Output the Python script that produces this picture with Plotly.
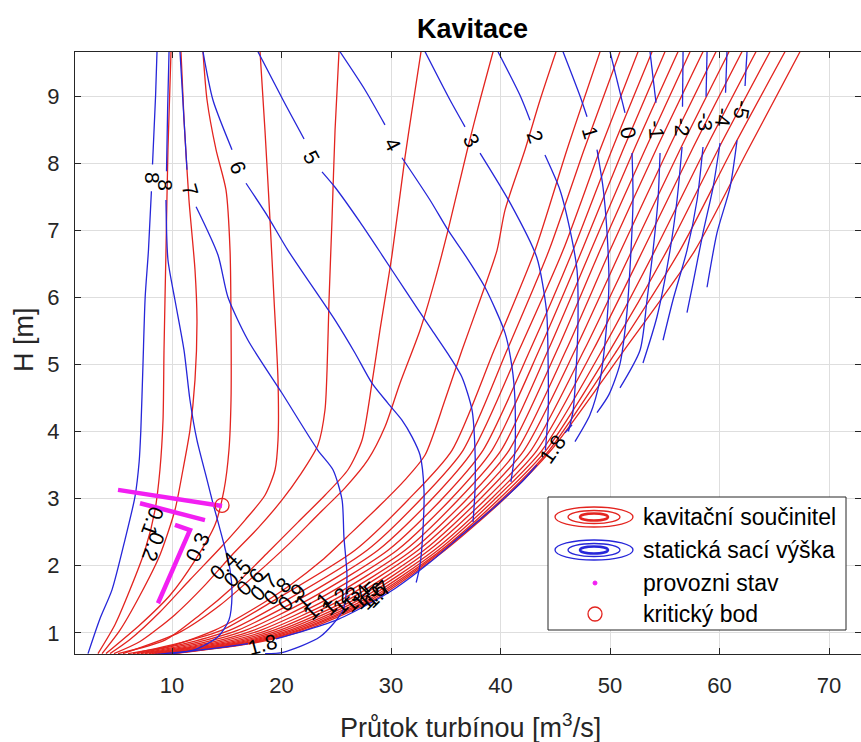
import plotly.graph_objects as go

# ---------------- data (Q = průtok [m3/s], H = spád [m]) ----------------
# kavitační součinitel – red contour lines
R1_Q = [9.91, 9.63, 9.45, 9.27, 9.18, 8.90, 8.45, 7.53, 6.16, 4.79, 3.24]
R1_H = [9.66, 8.20, 6.70, 5.21, 4.17, 3.43, 2.83, 2.23, 1.64, 1.12, 0.69]
R2_Q = [10.82, 11.10, 11.55, 12.10, 12.28, 12.10, 11.64, 11.00, 10.27, 8.90, 7.08, 5.25, 3.61]
R2_H = [9.66, 8.64, 7.45, 6.41, 5.66, 4.77, 4.02, 3.43, 2.83, 2.16, 1.56, 1.04, 0.69]
R3_Q = [12.83, 13.20, 14.02, 14.93, 15.30, 15.39, 15.39, 15.20, 14.75, 13.93, 12.10, 9.82, 7.08, 3.97]
R3_H = [9.66, 8.94, 8.20, 7.60, 6.70, 5.66, 4.47, 3.72, 3.13, 2.61, 2.08, 1.56, 1.12, 0.69]
R4_Q = [18.04, 18.49, 18.95, 19.32, 19.68, 19.68, 19.41, 18.49, 16.67, 14.38, 11.64, 8.90, 6.16, 4.34]
R4_H = [9.66, 8.49, 7.15, 5.96, 4.77, 3.87, 3.43, 3.05, 2.68, 2.26, 1.79, 1.31, 0.90, 0.69]
R5_Q = [25.25, 24.89, 24.61, 24.34, 24.16, 23.97, 23.33, 21.69, 20.05, 17.85, 15.48, 13.01, 10.27, 7.08, 4.70]
R5_H = [9.66, 8.49, 7.15, 5.96, 4.92, 4.32, 3.80, 3.35, 2.98, 2.56, 2.16, 1.71, 1.27, 0.87, 0.69]
R6_Q = [32.74, 31.92, 31.28, 30.09, 28.99, 28.26, 27.35, 26.07, 23.97, 21.51, 18.77, 15.75, 12.56, 9.36, 5.07]
R6_H = [9.66, 8.79, 8.09, 6.63, 5.51, 4.72, 3.87, 3.43, 3.05, 2.65, 2.20, 1.71, 1.27, 0.89, 0.69]
R7_Q = [39.32, 38.13, 37.03, 35.21, 34.02, 32.65, 30.82, 29.45, 27.90, 25.80, 23.33, 20.59, 17.58, 14.38, 10.73, 5.53]
R7_H = [9.66, 8.94, 8.24, 7.00, 6.26, 5.51, 4.72, 4.07, 3.58, 3.16, 2.76, 2.31, 1.86, 1.41, 1.01, 0.69]
R8_Q = [45.07, 43.61, 42.24, 40.41, 39.68, 38.13, 36.48, 34.93, 33.11, 31.28, 29.00, 26.44, 23.70, 20.78, 17.58, 13.93, 9.82, 5.98]
R8_H = [9.66, 8.94, 8.20, 7.30, 6.70, 5.96, 5.21, 4.47, 3.65, 3.28, 2.90, 2.50, 2.08, 1.71, 1.37, 1.04, 0.80, 0.69]
RD_H = [9.66, 8.20, 6.70, 5.21, 3.72, 2.98, 2.23, 1.49, 1.04, 0.85, 0.69]
R9_Q = [49.09, 46.07, 43.15, 39.41, 35.57, 31.55, 26.71, 19.41, 14.57, 10.73, 6.44]
R10_Q = [50.91, 47.63, 44.43, 40.59, 36.58, 32.65, 27.81, 20.50, 15.30, 11.46, 6.80]
R11_Q = [52.56, 49.09, 45.71, 41.69, 37.49, 33.65, 28.81, 21.51, 16.03, 12.10, 7.17]
R12_Q = [53.84, 50.18, 46.62, 42.69, 38.40, 34.57, 29.73, 22.42, 16.76, 12.74, 7.53]
R13_Q = [55.02, 51.19, 47.44, 43.52, 39.22, 35.39, 30.55, 23.24, 17.49, 13.38, 7.90]
R14_Q = [56.21, 52.19, 48.26, 44.34, 40.05, 36.12, 31.28, 24.06, 18.13, 13.93, 8.17]
R15_Q = [57.31, 53.20, 49.09, 45.16, 40.78, 36.85, 31.92, 24.79, 18.77, 14.47, 8.45]
R16_Q = [58.49, 54.20, 50.00, 45.98, 41.51, 37.49, 32.47, 25.43, 19.32, 15.02, 8.72]
R17_Q = [59.68, 55.30, 51.00, 46.80, 42.15, 38.04, 33.01, 26.07, 19.86, 15.48, 9.00]
R18_Q = [60.87, 56.39, 52.01, 47.63, 42.79, 38.58, 33.47, 26.62, 20.32, 15.94, 9.27]
R19_Q = [62.05, 57.49, 53.01, 48.45, 43.33, 39.04, 33.93, 27.08, 20.78, 16.30, 9.45]
R20_Q = [63.33, 58.68, 54.11, 49.27, 43.79, 39.41, 34.29, 27.53, 21.14, 16.67, 9.63]
R21_Q = [64.61, 59.86, 55.21, 50.00, 44.16, 39.77, 34.57, 27.90, 21.51, 17.03, 9.82]
R22_Q = [65.98, 61.14, 56.39, 50.64, 44.43, 40.05, 34.75, 28.17, 21.78, 17.31, 10.00]
R23_Q = [67.35, 62.60, 57.76, 51.28, 44.61, 40.23, 34.93, 28.45, 22.15, 17.58, 10.18]

# statická sací výška – blue contour lines (None = gap for label)
B8a_Q = [8.63, 8.50, 8.22, None, 8.12, 7.85, 7.55, 7.35, 7.15, 7.00, 6.62, 5.71, 4.52, 3.42, 2.33]
B8a_H = [9.66, 9.00, 7.98, None, 7.58, 6.70, 6.00, 5.00, 4.00, 3.55, 3.03, 2.39, 1.64, 1.21, 0.69]
B8b_Q = [9.73, 9.60, 9.50, None, 9.45, 9.63, 10.27, 11.10, 11.64, 12.28, 13.20, 13.74, 14.57, 15.30, 15.48, 15.20, 14.20, 12.10, 10.00]
B8b_H = [9.66, 8.80, 7.88, None, 7.45, 6.56, 5.96, 5.21, 4.47, 3.87, 3.28, 2.93, 2.43, 1.94, 1.56, 1.19, 0.94, 0.75, 0.69]
B7_Q = [10.73, 11.10, 11.37, None, 12.20, 14.20, 15.11, 16.94, 20.05, 23.33, 24.70, 25.53, 25.70, 25.98, 25.62, 23.52, 20.14, 18.50]
B7_H = [9.66, 8.64, 7.90, None, 7.35, 6.63, 6.00, 5.36, 4.57, 3.72, 3.43, 2.98, 2.43, 1.83, 1.34, 0.94, 0.71, 0.69]
B6_Q = [12.83, 13.74, 15.48, None, 16.76, 18.77, 20.59, 24.89, 26.71, 28.26, 29.73, 31.00, 31.92, 32.65, 33.01, 32.92, 32.65, 32.30]
B6_H = [9.66, 8.94, 8.20, None, 7.70, 7.20, 6.70, 5.66, 5.17, 4.72, 4.42, 4.17, 3.92, 3.65, 3.13, 2.53, 2.01, 1.75]
B5_Q = [17.85, 20.14, 22.06, None, 23.70, 24.89, 27.17, 29.18, 31.28, 33.74, 35.39, 36.48, 37.40, 37.67, 37.67, 37.49]
B5_H = [9.66, 8.94, 8.36, None, 7.87, 7.64, 7.12, 6.63, 6.11, 5.51, 5.11, 4.81, 4.32, 3.72, 3.13, 2.65]
B4_Q = [25.34, 27.63, 29.45, None, 31.00, 33.56, 35.21, 36.76, 38.58, 40.41, 41.05, 41.32, 41.32, 40.95]
B4_H = [9.66, 9.09, 8.57, None, 8.08, 7.45, 7.00, 6.63, 6.15, 5.47, 4.96, 4.47, 3.72, 3.25]
B3_Q = [33.11, 35.39, 36.76, None, 38.13, 40.90, 43.30, 44.20, 44.35, 44.35, 44.10]
B3_H = [9.66, 8.94, 8.54, None, 8.15, 7.40, 6.60, 5.80, 5.00, 4.30, 3.72]
B2_Q = [39.77, 41.78, 42.70, None, 44.06, 45.43, 46.35, 46.99, 47.08, 46.90, 46.62, 46.20]
B2_H = [9.66, 9.01, 8.64, None, 8.12, 7.60, 7.00, 6.40, 5.70, 4.90, 4.30, 4.00]
B1_Q = [45.71, 47.26, 47.90, None, 48.81, 49.36, 49.73, 49.90, 49.63, 49.09, 48.17, 46.80]
B1_H = [9.66, 9.00, 8.69, None, 8.20, 7.64, 6.96, 6.21, 5.47, 4.77, 4.25, 3.85]
B0_Q = [50.00, 51.37, None, 52.01, 52.10, 51.83, 51.50, 50.90, 49.90, 48.81]
B0_H = [9.66, 8.75, None, 8.15, 7.45, 6.45, 5.70, 5.00, 4.55, 4.28]
Bm1_Q = [53.65, 54.20, None, 54.57, 54.38, 53.93, 53.38, 52.74, 50.91]
Bm1_H = [9.66, 8.90, None, 8.15, 7.45, 6.70, 5.96, 5.21, 4.65]
Bm2_Q = [56.67, 56.62, None, 56.58, 56.12, 55.48, 54.29, 53.01]
Bm2_H = [9.66, 8.84, None, 8.24, 7.45, 6.70, 5.71, 5.02]
Bm3_Q = [58.86, 58.77, None, 58.49, 57.95, 57.03, 55.75, 54.84]
Bm3_H = [9.66, 8.99, None, 8.24, 7.45, 6.70, 5.96, 5.36]
Bm4_Q = [60.68, 60.55, None, 60.05, 59.41, 58.49, 57.58, 57.03]
Bm4_H = [9.66, 9.05, None, 8.30, 7.64, 6.96, 6.21, 5.77]
Bm5_Q = [62.51, 62.33, None, 61.60, 60.96, 59.77, 58.86]
Bm5_H = [9.66, 9.15, None, 8.34, 7.64, 6.96, 6.15]
B18_Q = [7.99, 10.00, 14.38, 16.94, None, 19.50, 21.69, 24.89, 28.08, 30.37, 33.56, 36.48, 39.50, 41.96, 43.33, None, 45.89, 46.53]
B18_H = [0.67, 0.70, 0.78, 0.84, None, 0.91, 1.01, 1.18, 1.44, 1.66, 2.05, 2.46, 2.88, 3.25, 3.50, None, 3.98, 4.10]

# provozní stav (operating states) and kritický bod
P1_Q = [5.07, 14.57]
P1_H = [3.13, 2.89]
P2_Q = [7.08, 13.01]
P2_H = [2.93, 2.68]
P3_Q = [10.27, 11.64, 8.72]
P3_H = [2.61, 2.53, 1.44]
KRIT_Q = [14.57]
KRIT_H = [2.90]

# contour labels
BLUE_LAB_TXT = ["8", "8", "7", "6", "5", "4", "3", "2", "1", "0", "-1", "-2", "-3", "-4", "-5"]
BLUE_LAB_Q = [8.17, 9.45, 11.64, 16.03, 22.79, 30.18, 37.40, 43.15, 48.17, 51.64, 54.29, 56.58, 58.68, 60.32, 62.10]
BLUE_LAB_H = [7.78, 7.67, 7.60, 7.93, 8.09, 8.28, 8.34, 8.39, 8.45, 8.45, 8.49, 8.54, 8.62, 8.69, 8.79]
BLUE_LAB_ANG = [90, 90, 74, 67, 62, 63, 60, 70, 73, 80, 87, 90, 90, 95, 100]
RED_LAB_TXT = ["0.1", "0.2", "0.3", "0.4", "0.5", "0.6", "0.7", "0.8", "0.9", "1", "1.1",
               "1.2", "1.3", "1.4", "1.5", "1.6", "1.7", "1.8", "1.8"]
RED_LAB_Q = [8.26, 8.26, 12.37, 14.75, 15.94, 17.12, 18.31, 19.59, 20.87, 21.96, 23.33,
             24.89, 25.98, 26.89, 27.63, 28.26, 28.81, 18.22, 44.79]
RED_LAB_H = [2.65, 2.28, 2.28, 2.00, 1.88, 1.77, 1.68, 1.61, 1.53, 1.46, 1.40,
             1.46, 1.49, 1.52, 1.55, 1.56, 1.58, 0.82, 3.74]
RED_LAB_ANG = [110, 110, -65, -45, -45, -45, -45, -45, -45, -45, -45,
               -45, -45, -45, -45, -45, -45, -15, -55]

# ---------------- figure ----------------
RED = "#e3241f"
BLUE = "#2626d9"
MAG = "#f21ff2"
INK = "#262626"
FONT = "Liberation Sans, Arial, sans-serif"

red_lines = [(R1_Q, R1_H), (R2_Q, R2_H), (R3_Q, R3_H), (R4_Q, R4_H), (R5_Q, R5_H),
             (R6_Q, R6_H), (R7_Q, R7_H), (R8_Q, R8_H)]
for q in [R9_Q, R10_Q, R11_Q, R12_Q, R13_Q, R14_Q, R15_Q, R16_Q, R17_Q, R18_Q,
          R19_Q, R20_Q, R21_Q, R22_Q, R23_Q]:
    red_lines.append((q, RD_H))
blue_lines = [(B8a_Q, B8a_H), (B8b_Q, B8b_H), (B7_Q, B7_H), (B6_Q, B6_H), (B5_Q, B5_H),
              (B4_Q, B4_H), (B3_Q, B3_H), (B2_Q, B2_H), (B1_Q, B1_H), (B0_Q, B0_H),
              (Bm1_Q, Bm1_H), (Bm2_Q, Bm2_H), (Bm3_Q, Bm3_H), (Bm4_Q, Bm4_H),
              (Bm5_Q, Bm5_H), (B18_Q, B18_H)]

fig = go.Figure()
for q, h in red_lines:
    fig.add_trace(go.Scatter(x=q, y=h, mode="lines", hoverinfo="skip", showlegend=False,
                             line=dict(color=RED, width=1.3, shape="spline", smoothing=0.7)))
for q, h in blue_lines:
    fig.add_trace(go.Scatter(x=q, y=h, mode="lines", hoverinfo="skip", showlegend=False,
                             line=dict(color=BLUE, width=1.3, shape="spline", smoothing=0.7)))
for q, h in [(P1_Q, P1_H), (P2_Q, P2_H), (P3_Q, P3_H)]:
    fig.add_trace(go.Scatter(x=q, y=h, mode="lines", hoverinfo="skip", showlegend=False,
                             line=dict(color=MAG, width=4.5)))
fig.add_trace(go.Scatter(x=KRIT_Q, y=KRIT_H, mode="markers", hoverinfo="skip", showlegend=False,
                         marker=dict(symbol="circle-open", size=14, color=RED, line=dict(width=1.3))))

for t, q, h, a in zip(BLUE_LAB_TXT, BLUE_LAB_Q, BLUE_LAB_H, BLUE_LAB_ANG):
    fig.add_annotation(x=q, y=h, text=t, showarrow=False, textangle=a,
                       xanchor="center", yanchor="middle",
                       font=dict(family=FONT, size=21, color="black"))
for t, q, h, a in zip(RED_LAB_TXT, RED_LAB_Q, RED_LAB_H, RED_LAB_ANG):
    fig.add_annotation(x=q, y=h, text=t, showarrow=False, textangle=a,
                       xanchor="center", yanchor="middle",
                       font=dict(family=FONT, size=21, color="black"))

W, Hh = 861, 742
L, R, T, B = 75, 0, 52, 88
PW, PH = W - L - R, Hh - T - B


def px_x(px):
    return (px - L) / PW


def px_y(py):
    return (Hh - B - py) / PH


axis_common = dict(ticks="inside", ticklen=6, tickcolor=INK, showline=True, linecolor=INK,
                   linewidth=1, mirror="ticks", showgrid=True, gridcolor="#dedede",
                   gridwidth=1, zeroline=False,
                   tickfont=dict(family=FONT, size=22, color=INK))
fig.update_xaxes(range=[1.142, 72.92], tickvals=[10, 20, 30, 40, 50, 60, 70],
                 ticklabelstandoff=12, **axis_common)
fig.update_yaxes(range=[0.684, 9.656], tickvals=[1, 2, 3, 4, 5, 6, 7, 8, 9],
                 ticklabelstandoff=10, **axis_common)

# titles
fig.add_annotation(xref="paper", yref="paper", x=px_x(472), y=px_y(29), text="<b>Kavitace</b>",
                   xanchor="center", yanchor="middle", showarrow=False,
                   font=dict(family=FONT, size=27, color="black"))
fig.add_annotation(xref="paper", yref="paper", x=px_x(471), y=px_y(726),
                   text="Průtok turbínou [m<sup>3</sup>/s]", showarrow=False,
                   xanchor="center", yanchor="middle",
                   font=dict(family=FONT, size=27, color=INK))
fig.add_annotation(xref="paper", yref="paper", x=px_x(24), y=px_y(340), text="H [m]",
                   textangle=-90, xanchor="center", yanchor="middle", showarrow=False,
                   font=dict(family=FONT, size=27, color=INK))

# custom legend (contour-style icons)
shapes = [dict(type="rect", xref="paper", yref="paper", x0=px_x(548), x1=px_x(846),
               y0=px_y(630), y1=px_y(497), fillcolor="white", line=dict(color=INK, width=1),
               layer="above")]
for cy, col in [(517, RED), (550, BLUE)]:
    for hw, hh, w in [(39, 10, 1.3), (26, 6.5, 1.3), (14, 3.5, 2.5)]:
        shapes.append(dict(type="circle", xref="paper", yref="paper",
                           x0=px_x(594 - hw), x1=px_x(594 + hw),
                           y0=px_y(cy + hh), y1=px_y(cy - hh),
                           line=dict(color=col, width=w), layer="above"))
shapes.append(dict(type="circle", xref="paper", yref="paper", x0=px_x(593), x1=px_x(597),
                   y0=px_y(585), y1=px_y(581), fillcolor=MAG, line=dict(color=MAG, width=1),
                   layer="above"))
shapes.append(dict(type="circle", xref="paper", yref="paper", x0=px_x(588), x1=px_x(602),
                   y0=px_y(621), y1=px_y(607), line=dict(color=RED, width=1.3), layer="above"))
fig.update_layout(shapes=shapes)
for txt, cy in [("kavitační součinitel", 517), ("statická sací výška", 550),
                ("provozni stav", 583), ("kritický bod", 614)]:
    fig.add_annotation(xref="paper", yref="paper", x=px_x(641), y=px_y(cy), text=txt,
                       xanchor="left", yanchor="middle", showarrow=False,
                       font=dict(family=FONT, size=23, color="black"))

fig.update_layout(width=W, height=Hh, margin=dict(l=L, r=R, t=T, b=B),
                  paper_bgcolor="white", plot_bgcolor="white", showlegend=False)
fig.write_html("out.html")
